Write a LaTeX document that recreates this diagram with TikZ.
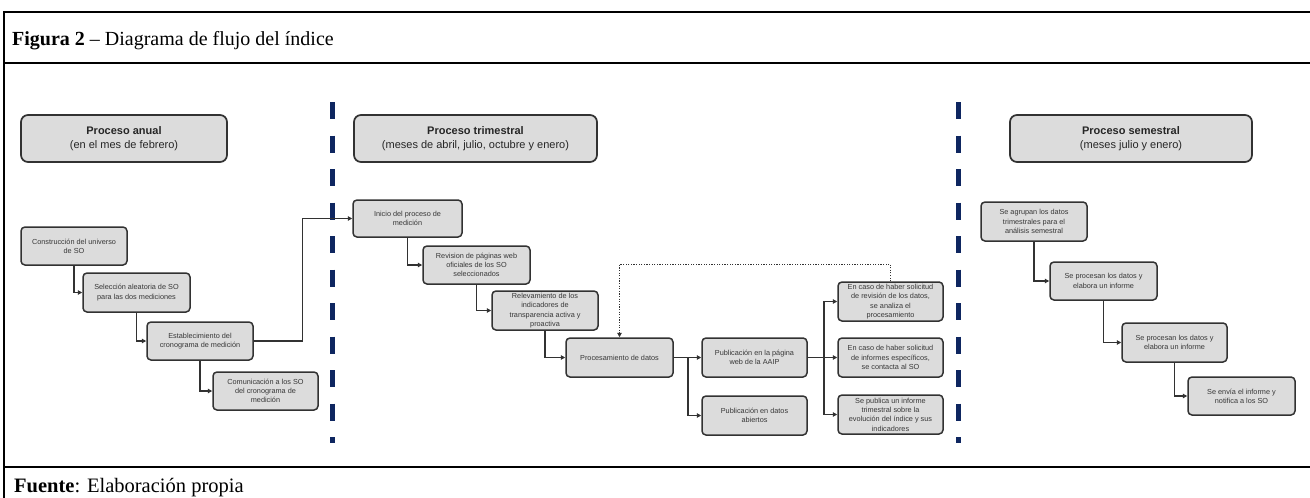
\documentclass[tikz,border=0pt]{standalone}
\usepackage{fontspec}
\setmainfont{Liberation Serif}
\newfontfamily\arialf{Liberation Sans}
\usetikzlibrary{arrows.meta}
\definecolor{boxfill}{RGB}{220,220,220}
\definecolor{boxline}{RGB}{50,50,50}
\definecolor{txtc}{RGB}{55,55,55}
\definecolor{navyd}{RGB}{14,38,96}
\tikzset{
  sbox/.style={draw=boxline, fill=boxfill, line width=1.5pt, rounded corners=4pt,
    inner sep=1pt, align=center, text=txtc, font=\arialf\fontsize{7.3}{9.3}\selectfont},
  hbox/.style={draw=boxline, fill=boxfill, line width=1.7pt, rounded corners=7pt,
    inner sep=1pt, align=center, text=black!85, font=\arialf\fontsize{11}{13.5}\selectfont},
  conn/.style={draw=boxline, line width=1.5pt, -{Triangle[length=4.5pt,width=4.5pt]}},
  dotconn/.style={conn, line width=1.3pt, dash pattern=on 1.1pt off 1.5pt},
  divider/.style={navyd, line width=5pt, dash pattern=on 17pt off 16.5pt},
  rulel/.style={black, line width=2pt}
}
\newcommand{\bx}[7][sbox]{\node[#1, minimum width={(#5-#3)*1pt}, minimum height={(#6-#4)*1pt}] (#2) at ({(#3+#5)/2},{(#4+#6)/2}) {#7};}
\begin{document}
\begin{tikzpicture}[x=1pt,y=-1pt]
\useasboundingbox (0,0) rectangle (1310,498);
% table frame
\draw[rulel] (1310,12) -- (4,12) -- (4,498);
\draw[rulel] (4,63) -- (1310,63);
\draw[rulel] (4,467) -- (1310,467);
\node[anchor=base west, inner sep=0pt, font=\fontsize{20}{24}\selectfont] (title) at (12,45) {\textbf{Figura 2} – Diagrama de flujo del índice};
\node[anchor=base west, inner sep=0pt, font=\fontsize{20.5}{24}\selectfont] (source) at (14,492) {\textbf{Fuente}: Elaboración propia};
% dividers
\draw[divider] (332.5,102) -- (332.5,443);
\draw[divider] (958.5,102) -- (958.5,443);
% headers
\bx[hbox]{h1}{21}{115}{227}{162}{\textbf{Proceso anual}\\(en el mes de febrero)}
\bx[hbox]{h2}{354}{115}{597}{162}{\textbf{Proceso trimestral}\\(meses de abril, julio, octubre y enero)}
\bx[hbox]{h3}{1010}{115}{1252}{162}{\textbf{Proceso semestral}\\(meses julio y enero)}
% anual
\bx{a1}{21}{227}{127}{265}{Construcción del universo\\de SO}
\bx{a2}{83}{273}{190}{312}{Selección aleatoria de SO\\para las dos mediciones}
\bx{a3}{147}{322}{253}{360}{Establecimiento del\\cronograma de medición}
\bx{a4}{213}{372}{318}{410}{Comunicación a los SO\\del cronograma de\\medición}
% trimestral
\bx{t1}{353}{200}{462}{237}{Inicio del proceso de\\medición}
\bx{t2}{423}{246}{530}{284}{Revision de páginas web\\oficiales de los SO\\seleccionados}
\bx{t3}{492}{291}{598}{330}{Relevamiento de los\\indicadores de\\transparencia activa y\\proactiva}
\bx{t4}{566}{338}{673}{377}{Procesamiento de datos}
\bx{t5}{702}{338}{807}{377}{Publicación en la página\\web de la AAIP}
\bx{t6}{702}{396}{807}{435}{Publicación en datos\\abiertos}
\bx{t7}{838}{282}{943}{321}{En caso de haber solicitud\\de revisión de los datos,\\se analiza el\\procesamiento}
\bx{t8}{838}{338}{943}{377}{En caso de haber solicitud\\de informes específicos,\\se contacta al SO}
\bx{t9}{838}{395}{943}{434}{Se publica un informe\\trimestral sobre la\\evolución del índice y sus\\indicadores}
% semestral
\bx{s1}{981}{202}{1087}{241}{Se agrupan los datos\\trimestrales para el\\análisis semestral}
\bx{s2}{1050}{262}{1157}{300}{Se procesan los datos y\\elabora un informe}
\bx{s3}{1122}{323}{1227}{362}{Se procesan los datos y\\elabora un informe}
\bx{s4}{1188}{377}{1295}{415}{Se envía el informe y\\notifica a los SO}
% connectors
\draw[conn] (a1.south) |- (a2.west);
\draw[conn] (a2.south) |- (a3.west);
\draw[conn] (a3.south) |- (a4.west);
\draw[conn] (a3.east) -| ([xshift=-50pt]t1.west) -- (t1.west);
\draw[conn] (t1.south) |- (t2.west);
\draw[conn] (t2.south) |- (t3.west);
\draw[conn] (t3.south) |- (t4.west);
\draw[conn] (t4.east) -- (t5.west);
\draw[conn] ([xshift=14pt]t4.east) |- (t6.west);
\draw[conn] (t5.east) -- (t8.west);
\draw[conn] ([xshift=16pt]t5.east) |- (t7.west);
\draw[conn] ([xshift=16pt]t5.east) |- (t9.west);
\draw[dotconn] (t7.north) -- ([yshift=17pt]t7.north) -| (t4.north);
\draw[conn] (s1.south) |- (s2.west);
\draw[conn] (s2.south) |- (s3.west);
\draw[conn] (s3.south) |- (s4.west);
\end{tikzpicture}
\end{document}
